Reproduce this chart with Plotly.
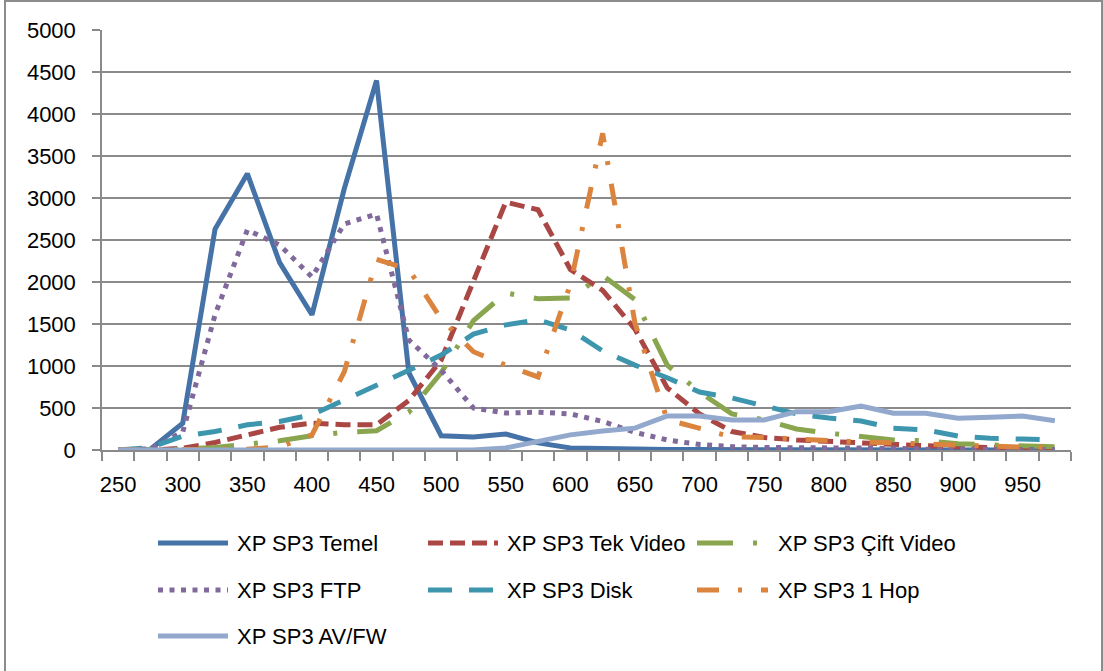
import plotly.graph_objects as go

# Wavelength-style category axis: 250 .. 975 in steps of 25
categories = [250, 275, 300, 325, 350, 375, 400, 425, 450, 475,
              500, 525, 550, 575, 600, 625, 650, 675, 700, 725,
              750, 775, 800, 825, 850, 875, 900, 925, 950, 975]

temel = [0, 10, 320, 2630, 3290, 2230, 1610, 3110, 4400, 920,
         170, 155, 190, 85, 25, 15, 10, 5, 5, 4,
         3, 3, 2, 2, 2, 1, 1, 1, 1, 1]
tek_video = [0, 0, 20, 90, 180, 270, 320, 300, 300, 590,
             1070, 2020, 2950, 2860, 2150, 1900, 1440, 740, 430, 220,
             150, 120, 100, 80, 60, 50, 40, 30, 20, 10]
cift_video = [0, 0, 10, 30, 70, 110, 170, 210, 230, 450,
              920, 1540, 1870, 1800, 1810, 2080, 1790, 1010, 690, 430,
              360, 250, 200, 160, 120, 110, 75, 60, 50, 40]
ftp = [0, 15, 215, 1610, 2620, 2440, 2060, 2690, 2810, 1310,
       950, 500, 440, 450, 430, 340, 210, 120, 65, 40,
       30, 30, 20, 20, 20, 10, 10, 10, 10, 5]
disk = [0, 30, 165, 220, 300, 340, 420, 590, 770, 950,
        1130, 1380, 1490, 1550, 1430, 1180, 1010, 860, 690, 620,
        520, 430, 380, 345, 260, 240, 167, 140, 130, 120]
bir_hop = [0, 0, 0, 0, 10, 35, 180, 930, 2270, 2150,
           1560, 1170, 1010, 870, 1970, 3770, 1510, 360, 250, 155,
           150, 130, 120, 95, 85, 70, 60, 50, 35, 35]
av_fw = [0, 0, 0, 0, 0, 0, 0, 0, 0, 0,
         0, 0, 25, 100, 180, 225, 260, 405, 405, 357,
         357, 456, 456, 524, 437, 437, 377, 389, 405, 349]

series_names = ["XP SP3 Temel", "XP SP3 Tek Video", "XP SP3 Çift Video",
                "XP SP3 FTP", "XP SP3 Disk", "XP SP3 1 Hop", "XP SP3 AV/FW"]
series_values = [temel, tek_video, cift_video, ftp, disk, bir_hop, av_fw]
series_colors = ["#4572A7", "#AA4643", "#89A54E", "#80699B",
                 "#3D96AE", "#DB843D", "#92A8CD"]
series_dash = ["solid", "15px,7px", "36px,20px,4px,20px", "5px,6.5px",
               "24px,17px", "22px,19px,4px,19px", "solid"]

x_labels = [250, 300, 350, 400, 450, 500, 550, 600, 650, 700, 750, 800, 850, 900, 950]
y_ticks = [0, 500, 1000, 1500, 2000, 2500, 3000, 3500, 4000, 4500, 5000]

FONT = "Liberation Sans, Arial, sans-serif"
FSIZE = 22
GRID = "#8A8A8A"
LW = 5

W, H = 1103, 671
ML, MR, MT, MB = 102, 32, 30, 221
PW, PH = W - ML - MR, H - MT - MB

fig = go.Figure()
for name, vals, col, dash in zip(series_names, series_values, series_colors, series_dash):
    fig.add_trace(go.Scatter(
        x=categories, y=vals, name=name, mode="lines",
        line=dict(color=col, width=LW, dash=dash),
        showlegend=False, hoverinfo="x+y+name",
    ))

step = categories[1] - categories[0]
boundaries = [c - step / 2 for c in categories] + [categories[-1] + step / 2]

fig.update_xaxes(
    range=[boundaries[0], boundaries[-1]],
    tickmode="array", tickvals=x_labels, ticktext=[str(v) for v in x_labels],
    ticks="", showgrid=False, zeroline=False,
    showline=True, linecolor=GRID, linewidth=1.5,
    tickfont=dict(family=FONT, size=FSIZE, color="#000000"),
    ticklabelstandoff=14,
    minor=dict(tickmode="array", tickvals=boundaries, ticks="outside",
               ticklen=9, tickcolor=GRID, tickwidth=1.5, showgrid=False),
)
fig.update_yaxes(
    range=[0, 5000], tickmode="array", tickvals=y_ticks,
    ticks="outside", ticklen=8, tickcolor=GRID, tickwidth=1.5,
    showgrid=True, gridcolor=GRID, gridwidth=1.5, zeroline=False,
    showline=True, linecolor=GRID, linewidth=1.5,
    tickfont=dict(family=FONT, size=FSIZE, color="#000000"),
    ticklabelstandoff=12,
)


def px_x(px):
    return (px - ML) / PW


def px_y(py):
    return (H - MB - py) / PH


# Legend drawn as line samples with labels, three per row
legend_cols = [(158, 228, 235), (428, 498, 505), (697, 768, 776)]
legend_rows = [543, 590, 636]
shapes = []
annotations = []
for i, (name, col, dash) in enumerate(zip(series_names, series_colors, series_dash)):
    r, c = divmod(i, 3)
    x0, x1, xt = legend_cols[c]
    yy = legend_rows[r]
    shapes.append(dict(type="line", xref="paper", yref="paper",
                       x0=px_x(x0), x1=px_x(x1), y0=px_y(yy), y1=px_y(yy),
                       line=dict(color=col, width=LW, dash=dash)))
    annotations.append(dict(text=name, xref="paper", yref="paper",
                            x=px_x(xt), y=px_y(yy), xanchor="left", yanchor="middle",
                            showarrow=False,
                            font=dict(family=FONT, size=FSIZE, color="#000000")))

# Chart area border
shapes.append(dict(type="rect", xref="paper", yref="paper",
                   x0=px_x(5), x1=px_x(1102), y0=px_y(676), y1=px_y(1),
                   line=dict(color="#8C8C8C", width=2), fillcolor="rgba(0,0,0,0)",
                   layer="below"))

fig.update_layout(
    width=W, height=H,
    margin=dict(l=ML, r=MR, t=MT, b=MB, pad=0),
    paper_bgcolor="#FFFFFF", plot_bgcolor="#FFFFFF",
    shapes=shapes, annotations=annotations,
    font=dict(family=FONT, size=FSIZE, color="#000000"),
)

fig.write_html("out.html")
